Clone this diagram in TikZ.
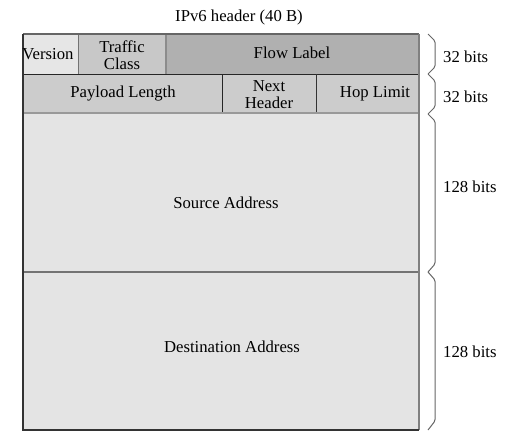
\documentclass[tikz,border=0pt]{standalone}
\usepackage{fontspec}
\setmainfont{Liberation Serif}
\begin{document}
\begin{tikzpicture}[x=1pt,y=-1pt,
  lbl/.style={font=\fontsize{16.7}{16.7}\selectfont, inner sep=0pt, align=center},
  brc/.style={draw=black!60, line width=1pt, rounded corners=1.5pt}]
\useasboundingbox (0,0) rectangle (505,439);
\definecolor{cver}{HTML}{E6E6E6}
\definecolor{ctc}{HTML}{C8C8C8}
\definecolor{cfl}{HTML}{B0B0B0}
\definecolor{crow}{HTML}{CCCCCC}
\definecolor{caddr}{HTML}{E4E4E4}
% fills
\fill[cver] (23,34) rectangle (78,74);
\fill[ctc] (78,34) rectangle (166,74);
\fill[cfl] (166,34) rectangle (419,74);
\fill[crow] (23,74) rectangle (419,113);
\fill[caddr] (23,113) rectangle (419,430);
% inner dividers
\draw[black!55, line width=1pt] (78,34) -- (78,74);
\draw[black!45, line width=1.6pt] (166,34) -- (166,74);
\draw[black!85, line width=1pt] (23,74) -- (419,74);
\draw[black!85, line width=1pt] (222,74) -- (222,113);
\draw[black!80, line width=1pt] (316,74) -- (316,113);
\draw[black!40, line width=1.8pt] (23,113) -- (419,113);
\draw[black!55, line width=2pt] (23,272) -- (419,272);
% outer frame
\draw[black!60, line width=1.4pt] (23,34) -- (419,34);
\draw[black!50, line width=1.6pt] (419,34) -- (419,430);
\draw[black!80, line width=1.4pt] (419,430) -- (23,430) -- (23,34);
% texts
\node[lbl] (title) at (239,17) {IPv6 header (40 B)};
\node[lbl] (ver) at (48,54) {Version};
\node[lbl, font=\fontsize{16.7}{17}\selectfont] (tc) at (122,55) {Traffic\\Class};
\node[lbl] (fl) at (292,53) {Flow Label};
\node[lbl] (pl) at (123,94) {Payload Length};
\node[lbl, font=\fontsize{16.7}{17}\selectfont] (nh) at (269,95) {Next\\Header};
\node[lbl] (hl) at (375,94) {Hop Limit};
\node[lbl] (src) at (226,203) {Source Address};
\node[lbl] (dst) at (232,347) {Destination Address};
% braces
\coordinate (b0) at (428,34);
\coordinate (b1) at (428,74);
\coordinate (b2) at (428,114);
\coordinate (b3) at (428,272);
\coordinate (b4) at (428,430);
\draw[brc] (b0) -- (435,41) -- (435,67) -- (b1);
\draw[brc] (b1) -- (435,81) -- (435,107) -- (b2);
\draw[brc] (b2) -- (435,121) -- (435,264) -- (b3);
\draw[brc] (b3) -- (435,280) -- (435,421) -- (b4);
\node[lbl, anchor=west] (l1) at (443,57) {32 bits};
\node[lbl, anchor=west] (l2) at (443,97) {32 bits};
\node[lbl, anchor=west] (l3) at (443,187) {128 bits};
\node[lbl, anchor=west] (l4) at (443,352) {128 bits};
\end{tikzpicture}
\end{document}
